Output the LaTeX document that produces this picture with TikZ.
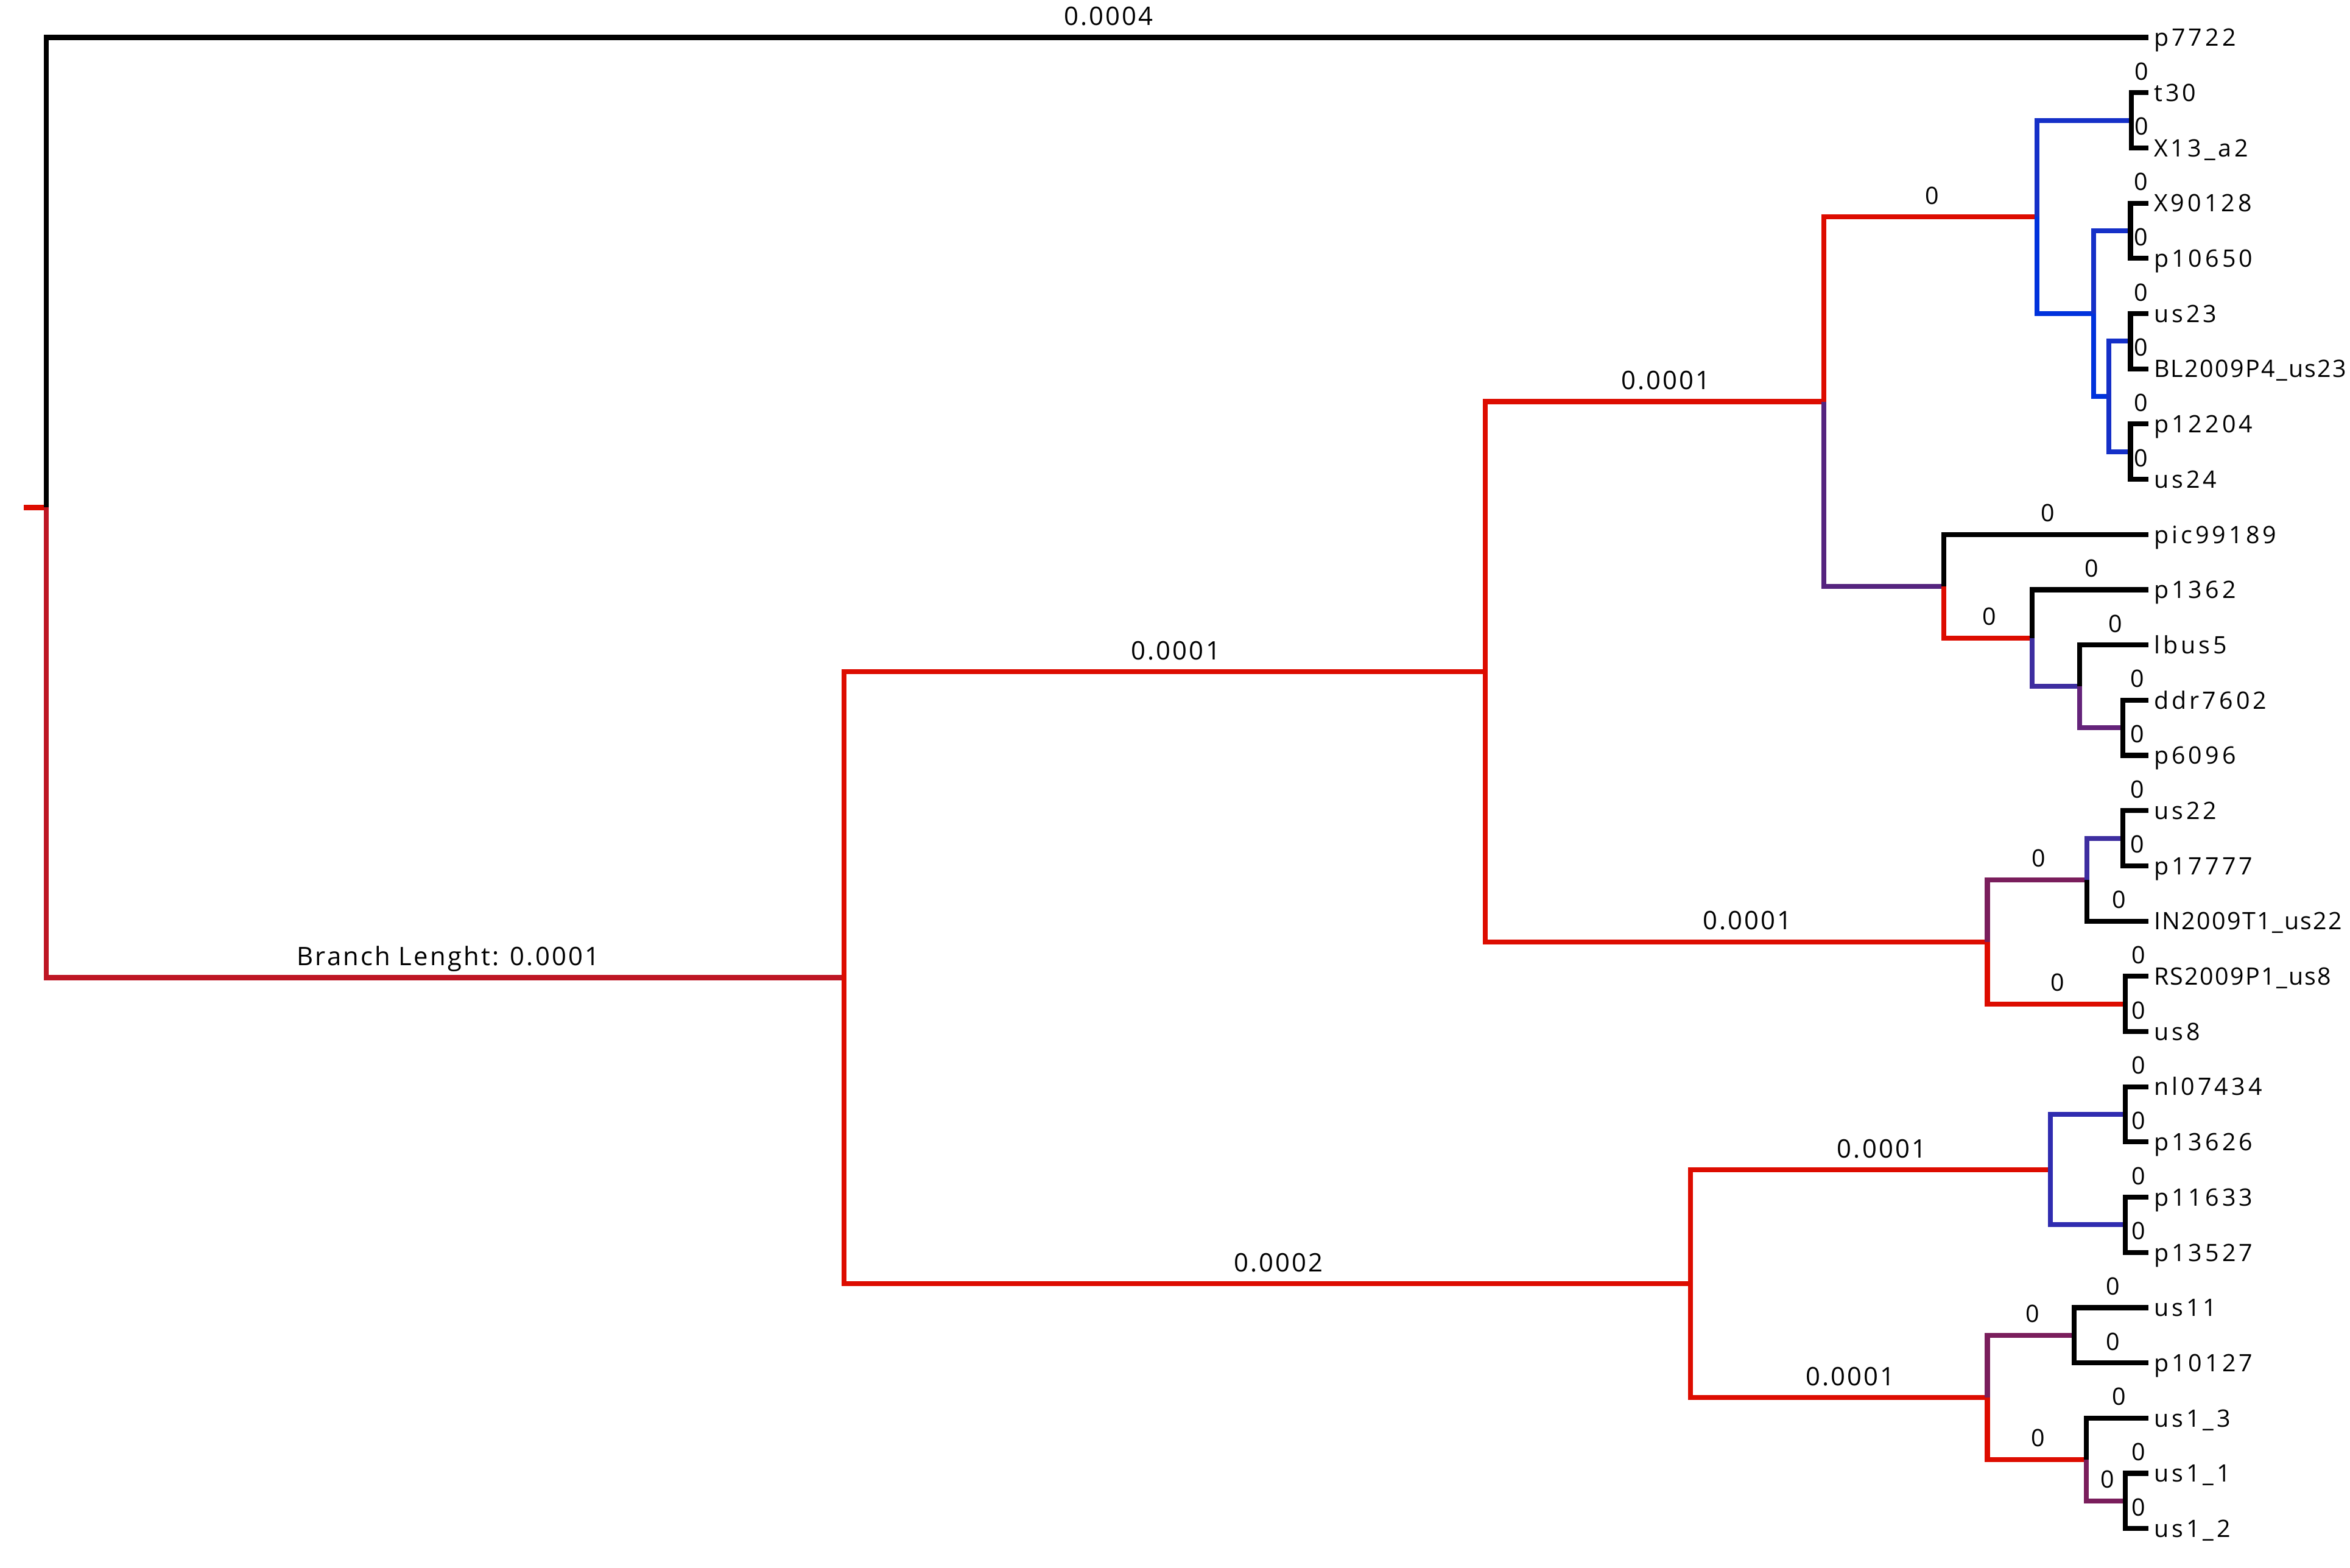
\documentclass[tikz,border=0pt]{standalone}
\usepackage{fontspec}
\setmainfont{Open Sans}
\newfontfamily\leaffont{Open Sans}[LetterSpace=13]
\newfontfamily\leaffontn{Open Sans}[LetterSpace=6]
\newfontfamily\zerofont{Open Sans}
\newfontfamily\decfont{Open Sans}[LetterSpace=7.5]
\definecolor{tred}{RGB}{221,12,0}
\definecolor{tcrim}{RGB}{190,22,36}
\definecolor{tblueA}{RGB}{21,48,200}
\definecolor{tblueB}{RGB}{0,50,220}
\definecolor{tpurpA}{RGB}{85,36,127}
\definecolor{tindigo}{RGB}{62,46,160}
\definecolor{tpurpB}{RGB}{100,35,122}
\definecolor{tplum}{RGB}{122,30,92}
\definecolor{tnavy}{RGB}{48,44,176}
\newcommand\leaf[3]{%
  \coordinate (#1) at (1433.5,#2);
  \node[leaflab, anchor=base west] (#1-l) at (1437,#2+5.8) {#3};}
\newcommand\leafn[3]{%
  \coordinate (#1) at (1433.5,#2);
  \node[leaflabn, anchor=base west] (#1-l) at (1437,#2+5.8) {#3};}
\newcommand\zlab[2]{%
  \path (#1 |- #2) -- (#2) node[zl, midway] {0};}
\newcommand\dlab[4][7.5]{%
  \path (#2 |- #3) -- (#3) node[dl, midway, xshift=#1pt] {#4};}
\begin{document}
\begin{tikzpicture}[x=1pt,y=-1pt,
  br/.style={line width=3.3pt, line join=miter},
  leaflab/.style={inner sep=0pt, font=\leaffont\fontsize{16}{19}\selectfont},
  leaflabn/.style={inner sep=0pt, font=\leaffontn\fontsize{16}{19}\selectfont},
  zl/.style={inner sep=0pt, font=\zerofont\fontsize{16}{19}\selectfont, anchor=base, xshift=1pt, yshift=8.5pt},
  dl/.style={inner sep=0pt, font=\decfont\fontsize{17}{20}\selectfont, anchor=base, yshift=8pt}]
\useasboundingbox (0,0) rectangle (1568,1046);
\fill[white] (0,0) rectangle (1568,1046);

% leaves
\leaf{p7722}{25}{p7722}
\leaf{t30}{61.85}{t30}
\leaf{X13a2}{98.7}{X13\_a2}
\leaf{X90128}{135.55}{X90128}
\leaf{p10650}{172.4}{p10650}
\leaf{us23}{209.25}{us23}
\leafn{BL}{246.1}{BL2009P4\_us23}
\leaf{p12204}{282.95}{p12204}
\leaf{us24}{319.8}{us24}
\leaf{pic}{356.65}{pic99189}
\leaf{p1362}{393.5}{p1362}
\leaf{lbus5}{430.35}{lbus5}
\leaf{ddr}{467.2}{ddr7602}
\leaf{p6096}{504.05}{p6096}
\leaf{us22}{540.9}{us22}
\leaf{p17777}{577.75}{p17777}
\leafn{IN}{614.6}{IN2009T1\_us22}
\leafn{RS}{651.45}{RS2009P1\_us8}
\leaf{us8}{688.3}{us8}
\leaf{nl}{725.15}{nl07434}
\leaf{p13626}{762}{p13626}
\leaf{p11633}{798.85}{p11633}
\leaf{p13527}{835.7}{p13527}
\leaf{us11}{872.55}{us11}
\leaf{p10127}{909.4}{p10127}
\leaf{usa}{946.25}{us1\_3}
\leaf{usb}{983.1}{us1\_1}
\leaf{usc}{1019.95}{us1\_2}

% internal nodes
\coordinate (E1) at (1422,80.28);
\coordinate (E2) at (1421.5,153.98);
\coordinate (E3) at (1421.5,227.68);
\coordinate (E4) at (1421.5,301.38);
\coordinate (G) at (1407,264.53);
\coordinate (F) at (1397,209.25);
\coordinate (D) at (1359,144.77);
\coordinate (K) at (1416.5,485.63);
\coordinate (J) at (1387.5,457.99);
\coordinate (I) at (1356,425.74);
\coordinate (H) at (1297,391.2);
\coordinate (C) at (1217,267.98);
\coordinate (N) at (1416.5,559.33);
\coordinate (M) at (1392.5,586.96);
\coordinate (O) at (1418,669.88);
\coordinate (L) at (1326,628.42);
\coordinate (B) at (991,448.2);
\coordinate (S1) at (1418,743.58);
\coordinate (S2) at (1418,817.28);
\coordinate (Q) at (1368,780.43);
\coordinate (U) at (1384,890.98);
\coordinate (W) at (1418,1001.53);
\coordinate (V) at (1392,973.89);
\coordinate (T) at (1326,932.43);
\coordinate (P) at (1128,856.43);
\coordinate (A) at (563,652.32);
\coordinate (R) at (31,338.66);
\coordinate (Rs) at (16,338.66);

% root
\draw[br,tred] (Rs) -- (R);
\draw[br,black] (R) |- (p7722);
\draw[br,tcrim] (R) |- (A);
% A
\draw[br,tred] (A) |- (B);
\draw[br,tred] (A) |- (P);
% B
\draw[br,tred] (B) |- (C);
\draw[br,tred] (B) |- (L);
% C
\draw[br,tred] (C) |- (D);
\draw[br,tpurpA] (C) |- (H);
% D
\draw[br,tblueA] (D) |- (E1);
\draw[br,tblueB] (D) |- (F);
\draw[br,tblueA] (F) |- (E2);
\draw[br,tblueB] (F) |- (G);
\draw[br,tblueA] (G) |- (E3);
\draw[br,tblueA] (G) |- (E4);
\draw[br,black] (E1) |- (t30);
\draw[br,black] (E1) |- (X13a2);
\draw[br,black] (E2) |- (X90128);
\draw[br,black] (E2) |- (p10650);
\draw[br,black] (E3) |- (us23);
\draw[br,black] (E3) |- (BL);
\draw[br,black] (E4) |- (p12204);
\draw[br,black] (E4) |- (us24);
% H
\draw[br,black] (H) |- (pic);
\draw[br,tred] (H) |- (I);
\draw[br,black] (I) |- (p1362);
\draw[br,tindigo] (I) |- (J);
\draw[br,black] (J) |- (lbus5);
\draw[br,tpurpB] (J) |- (K);
\draw[br,black] (K) |- (ddr);
\draw[br,black] (K) |- (p6096);
% L
\draw[br,tplum] (L) |- (M);
\draw[br,tred] (L) |- (O);
\draw[br,tindigo] (M) |- (N);
\draw[br,black] (M) |- (IN);
\draw[br,black] (N) |- (us22);
\draw[br,black] (N) |- (p17777);
\draw[br,black] (O) |- (RS);
\draw[br,black] (O) |- (us8);
% P
\draw[br,tred] (P) |- (Q);
\draw[br,tred] (P) |- (T);
\draw[br,tnavy] (Q) |- (S1);
\draw[br,tnavy] (Q) |- (S2);
\draw[br,black] (S1) |- (nl);
\draw[br,black] (S1) |- (p13626);
\draw[br,black] (S2) |- (p11633);
\draw[br,black] (S2) |- (p13527);
\draw[br,tplum] (T) |- (U);
\draw[br,tred] (T) |- (V);
\draw[br,black] (U) |- (us11);
\draw[br,black] (U) |- (p10127);
\draw[br,black] (V) |- (usa);
\draw[br,tplum] (V) |- (W);
\draw[br,black] (W) |- (usb);
\draw[br,black] (W) |- (usc);

% branch length labels
\dlab{R}{p7722}{0.0004}
\dlab[2]{R}{A}{Branch Lenght: 0.0001}
\dlab{A}{B}{0.0001}
\dlab{A}{P}{0.0002}
\dlab{B}{C}{0.0001}
\dlab{B}{L}{0.0001}
\dlab{P}{Q}{0.0001}
\dlab{P}{T}{0.0001}
\zlab{C}{D}
\zlab{E1}{t30}
\zlab{E1}{X13a2}
\zlab{E2}{X90128}
\zlab{E2}{p10650}
\zlab{E3}{us23}
\zlab{E3}{BL}
\zlab{E4}{p12204}
\zlab{E4}{us24}
\zlab{H}{pic}
\zlab{H}{I}
\zlab{I}{p1362}
\zlab{J}{lbus5}
\zlab{K}{ddr}
\zlab{K}{p6096}
\zlab{L}{M}
\zlab{L}{O}
\zlab{M}{IN}
\zlab{N}{us22}
\zlab{N}{p17777}
\zlab{O}{RS}
\zlab{O}{us8}
\zlab{S1}{nl}
\zlab{S1}{p13626}
\zlab{S2}{p11633}
\zlab{S2}{p13527}
\zlab{T}{U}
\zlab{T}{V}
\zlab{U}{us11}
\zlab{U}{p10127}
\zlab{V}{usa}
\zlab{V}{W}
\zlab{W}{usb}
\zlab{W}{usc}
\end{tikzpicture}
\end{document}
